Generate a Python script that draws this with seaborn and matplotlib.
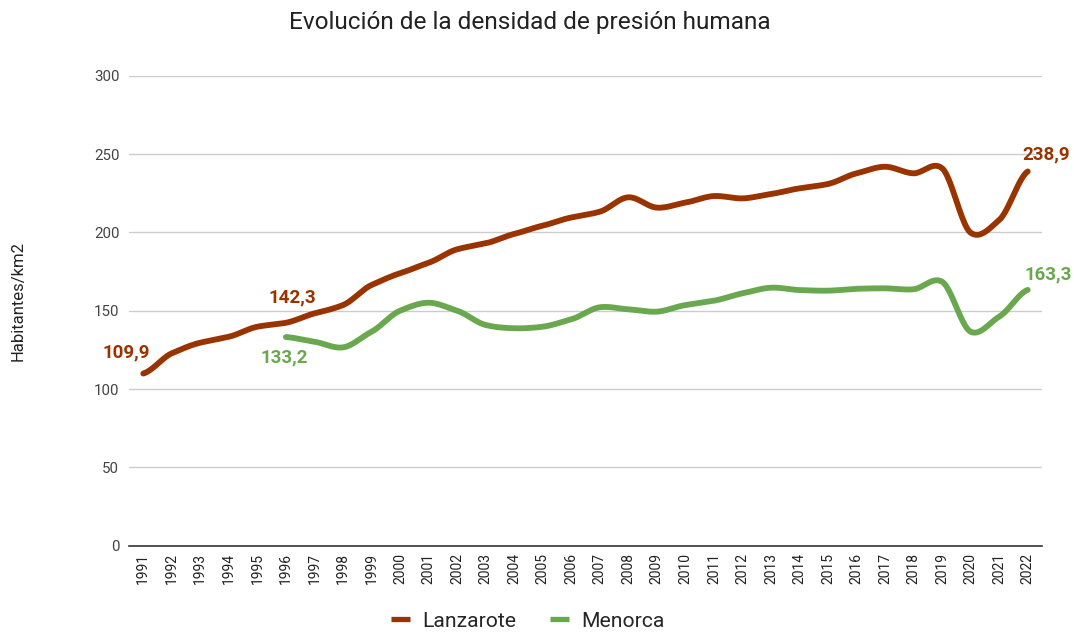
import numpy as np
import pandas as pd
import seaborn as sns
import matplotlib.pyplot as plt
from matplotlib.lines import Line2D


YEARS = list(range(1991, 2023))

LANZAROTE = [
    109.9, 122.8, 129.6, 133.4, 139.8, 142.3, 148.3, 153.6, 166.4, 173.9,
    180.6, 189.2, 193.0, 199.0, 204.3, 209.5, 213.2, 222.4, 215.8, 219.0,
    223.2, 221.7, 224.5, 228.1, 230.9, 237.7, 241.9, 237.7, 240.9, 199.8,
    207.9, 238.9,
]

MENORCA_YEARS = list(range(1996, 2023))
MENORCA = [
    133.2, 130.2, 126.6, 136.6, 150.0, 155.1, 150.0, 140.9, 138.8, 139.8,
    144.5, 152.2, 150.9, 149.4, 153.6, 156.4, 161.1, 164.7, 163.2, 162.8,
    164.0, 164.3, 163.7, 168.5, 136.6, 146.2, 163.3,
]

COLORS = {"Lanzarote": "#993300", "Menorca": "#6aa84f"}


def smooth(xs, ys, steps=24):
    """Catmull-Rom curve through the points, like the sheet's smooth lines."""
    x = np.asarray(xs, dtype=float)
    y = np.asarray(ys, dtype=float)
    px = np.concatenate([[2 * x[0] - x[1]], x, [2 * x[-1] - x[-2]]])
    py = np.concatenate([[y[0]], y, [y[-1]]])
    out_x, out_y = [], []
    t = np.linspace(0, 1, steps, endpoint=False)
    for i in range(1, len(px) - 2):
        p0, p1, p2, p3 = py[i - 1], py[i], py[i + 1], py[i + 2]
        m1 = (p2 - p0) / 2 * 0.8
        m2 = (p3 - p1) / 2 * 0.8
        h00 = 2 * t**3 - 3 * t**2 + 1
        h10 = t**3 - 2 * t**2 + t
        h01 = -2 * t**3 + 3 * t**2
        h11 = t**3 - t**2
        out_y.append(h00 * p1 + h10 * m1 + h01 * p2 + h11 * m2)
        out_x.append(px[i] + t * (px[i + 1] - px[i]))
    out_x.append([x[-1]])
    out_y.append([y[-1]])
    return np.concatenate(out_x), np.concatenate(out_y)


def build_frame() -> pd.DataFrame:
    parts = []
    for name, xs, ys in [
        ("Lanzarote", YEARS, LANZAROTE),
        ("Menorca", MENORCA_YEARS, MENORCA),
    ]:
        sx, sy = smooth(xs, ys)
        parts.append(pd.DataFrame({"year": sx, "value": sy, "serie": name}))
    return pd.concat(parts, ignore_index=True)


def main() -> None:
    sns.set_theme(style="white")
    plt.rcParams["font.family"] = ["Roboto", "DejaVu Sans"]

    fig = plt.figure(figsize=(10.74, 6.32), dpi=100)
    ax = fig.add_axes([0.1201, 0.1365, 0.8501, 0.7437])

    df = build_frame()
    sns.lineplot(
        data=df, x="year", y="value", hue="serie", palette=COLORS,
        linewidth=4.2, sort=False, estimator=None, legend=False, ax=ax,
    )

    ax.set_xlim(1990.5, 2022.5)
    ax.set_ylim(0, 300)
    ax.set_yticks([0, 50, 100, 150, 200, 250, 300])
    ax.set_xticks(YEARS)
    ax.set_xticklabels([str(y) for y in YEARS], rotation=90, fontsize=10,
                       color="#222222")
    ax.tick_params(axis="y", labelsize=10.8, labelcolor="#444444", pad=7,
                   length=0)
    ax.tick_params(axis="x", length=0, pad=5)
    ax.grid(axis="y", color="#cccccc", linewidth=1)
    ax.set_axisbelow(True)
    for side in ["top", "right", "left"]:
        ax.spines[side].set_visible(False)
    ax.spines["bottom"].set_color("#333333")
    ax.spines["bottom"].set_linewidth(1.2)

    ax.set_xlabel("")
    ax.set_ylabel("Habitantes/km2", fontsize=12, color="#222222")
    ax.yaxis.set_label_coords(-0.113, 0.52)

    fig.suptitle("Evolución de la densidad de presión humana",
                 fontsize=17.6, color="#222222", x=0.4935, y=0.965,
                 va="center")

    lab = dict(fontsize=13.5, fontweight="bold", ha="center", va="center")
    ax.text(1990.4, 123.6, "109,9", color=COLORS["Lanzarote"], **lab)
    ax.text(1996.23, 158.7, "142,3", color=COLORS["Lanzarote"], **lab)
    ax.text(2022.65, 250, "238,9", color=COLORS["Lanzarote"], **lab)
    ax.text(1995.93, 120, "133,2", color=COLORS["Menorca"], **lab)
    ax.text(2022.72, 173.4, "163,3", color=COLORS["Menorca"], **lab)
    for t in ax.texts:
        t.set_clip_on(False)

    handles = [Line2D([0], [0], color=COLORS[k], linewidth=3.8,
                      solid_capstyle="butt") for k in COLORS]
    fig.legend(handles, list(COLORS), loc="center", ncol=2,
               bbox_to_anchor=(0.4915, 0.017), frameon=False, fontsize=15.2,
               handlelength=0.9, columnspacing=1.56, handletextpad=0.62)

    fig.savefig("out.png", dpi=100)


if __name__ == "__main__":
    main()
